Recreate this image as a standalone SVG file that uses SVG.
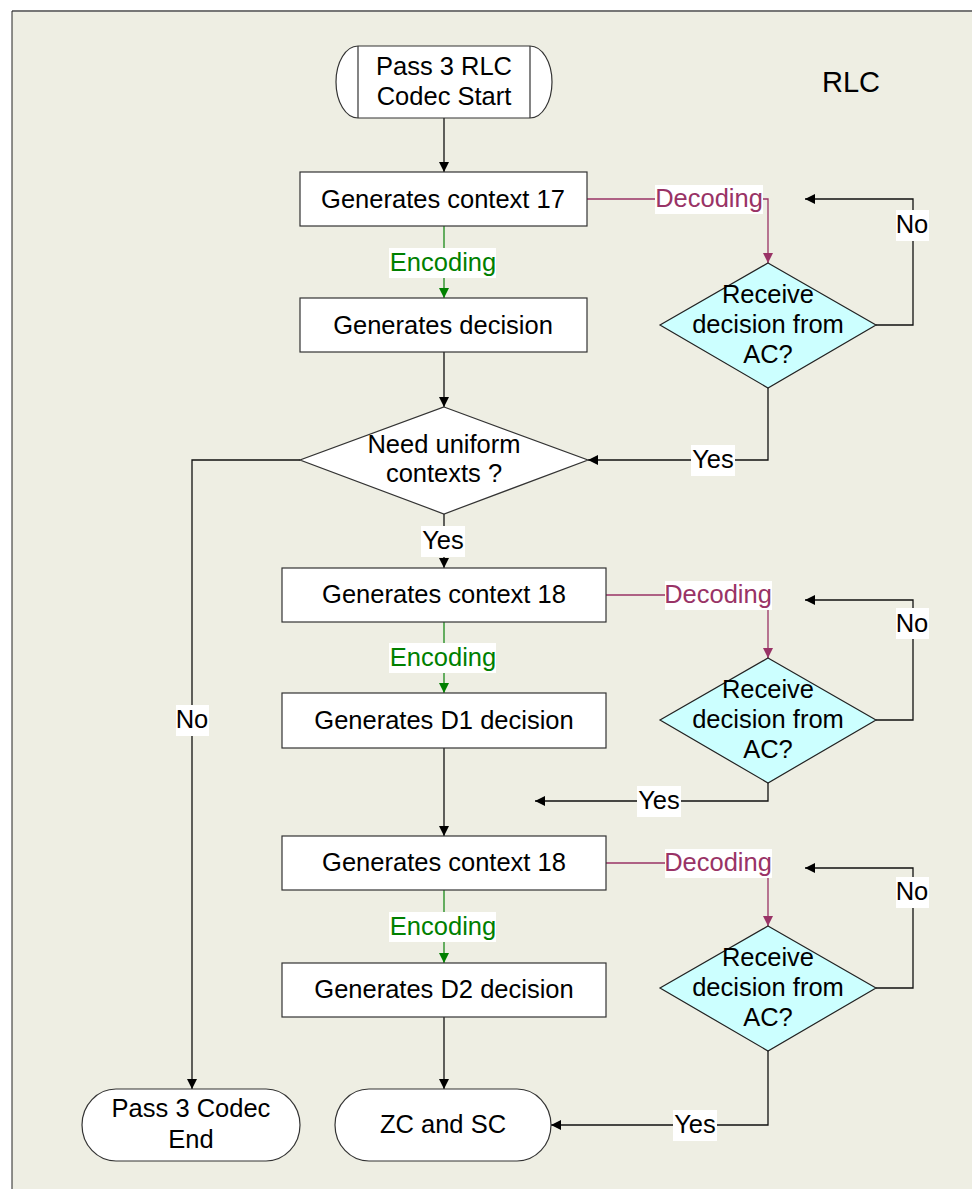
<svg xmlns="http://www.w3.org/2000/svg" width="972" height="1189" viewBox="0 0 972 1189">
  <defs>
    <style>
      text { font-family: "Liberation Sans", Arial, sans-serif; font-size: 25.5px; fill: #000; text-anchor: middle; }
      .box { fill: #fff; stroke: #333; stroke-width: 1.2; }
      .dec { fill: #CCFFFF; stroke: #222; stroke-width: 1.2; }
      .wire { fill: none; stroke: #111; stroke-width: 1.3; }
      .enc { fill: none; stroke: #1a8a1a; stroke-width: 1.3; }
      .dcd { fill: none; stroke: #993366; stroke-width: 1.3; }
      .lbl { fill: #fff; stroke: none; }
      .tg { fill: #008000; }
      .tm { fill: #993366; }
    </style>
    <marker id="ah" viewBox="0 0 10 10" refX="10" refY="5" markerWidth="10" markerHeight="10" markerUnits="userSpaceOnUse" orient="auto">
      <path d="M0,0 L10,5 L0,10 z" fill="#000"/>
    </marker>
    <marker id="ahg" viewBox="0 0 10 10" refX="10" refY="5" markerWidth="10" markerHeight="10" markerUnits="userSpaceOnUse" orient="auto">
      <path d="M0,0 L10,5 L0,10 z" fill="#008000"/>
    </marker>
    <marker id="ahm" viewBox="0 0 10 10" refX="10" refY="5" markerWidth="10" markerHeight="10" markerUnits="userSpaceOnUse" orient="auto">
      <path d="M0,0 L10,5 L0,10 z" fill="#993366"/>
    </marker>
  </defs>

  <!-- page -->
  <rect x="0" y="0" width="972" height="1189" fill="#fff"/>
  <rect x="12" y="11" width="960" height="1178" fill="#EEEEE3"/>
  <line x1="12" y1="11" x2="972" y2="11" stroke="#777" stroke-width="2"/>
  <line x1="12" y1="11" x2="12" y2="1189" stroke="#222" stroke-width="1"/>

  <text x="851" y="92" style="font-size:29px">RLC</text>

  <!-- connectors -->
  <g id="connectors">
    <line class="wire" x1="444" y1="118" x2="444" y2="172" marker-end="url(#ah)"/>
    <line class="enc" x1="444" y1="226" x2="444" y2="298" marker-end="url(#ahg)"/>
    <line class="wire" x1="444" y1="352" x2="444" y2="407" marker-end="url(#ah)"/>
    <line class="wire" x1="444" y1="514" x2="444" y2="568" marker-end="url(#ah)"/>
    <line class="enc" x1="444" y1="622" x2="444" y2="693" marker-end="url(#ahg)"/>
    <line class="wire" x1="444" y1="748" x2="444" y2="836" marker-end="url(#ah)"/>
    <line class="enc" x1="444" y1="890" x2="444" y2="963" marker-end="url(#ahg)"/>
    <line class="wire" x1="444" y1="1017" x2="444" y2="1089" marker-end="url(#ah)"/>

    <!-- uniform contexts: No -->
    <polyline class="wire" points="300,460 192,460 192,1089" marker-end="url(#ah)"/>

    <!-- decoding branch 1 -->
    <polyline class="dcd" points="587,199 768,199 768,263" marker-end="url(#ahm)"/>
    <polyline class="wire" points="876,325 913,325 913,199 805,199" marker-end="url(#ah)"/>
    <polyline class="wire" points="768,388 768,460 588,460" marker-end="url(#ah)"/>

    <!-- decoding branch 2 -->
    <polyline class="dcd" points="606,595 768,595 768,658" marker-end="url(#ahm)"/>
    <polyline class="wire" points="876,720 913,720 913,600 805,600" marker-end="url(#ah)"/>
    <polyline class="wire" points="768,783 768,801 535,801" marker-end="url(#ah)"/>

    <!-- decoding branch 3 -->
    <polyline class="dcd" points="606,863 768,863 768,926" marker-end="url(#ahm)"/>
    <polyline class="wire" points="876,988 913,988 913,868 805,868" marker-end="url(#ah)"/>
    <polyline class="wire" points="768,1051 768,1125 551,1125" marker-end="url(#ah)"/>

    <!-- connector labels -->
    <rect class="lbl" x="389" y="248" width="107" height="30"/>
    <text class="tg" x="443" y="271">Encoding</text>
    <rect class="lbl" x="389" y="643" width="107" height="30"/>
    <text class="tg" x="443" y="666">Encoding</text>
    <rect class="lbl" x="389" y="912" width="107" height="30"/>
    <text class="tg" x="443" y="935">Encoding</text>

    <rect class="lbl" x="655" y="185" width="108" height="29"/>
    <text class="tm" x="709" y="207">Decoding</text>
    <rect class="lbl" x="665" y="581" width="107" height="29"/>
    <text class="tm" x="718" y="603">Decoding</text>
    <rect class="lbl" x="665" y="849" width="107" height="29"/>
    <text class="tm" x="718" y="871">Decoding</text>

    <rect class="lbl" x="896" y="210" width="33" height="31"/>
    <text x="912" y="233">No</text>
    <rect class="lbl" x="896" y="608" width="33" height="31"/>
    <text x="912" y="632">No</text>
    <rect class="lbl" x="896" y="877" width="33" height="31"/>
    <text x="912" y="900">No</text>
    <rect class="lbl" x="176" y="705" width="33" height="31"/>
    <text x="192" y="728">No</text>

    <rect class="lbl" x="691" y="445" width="44" height="31"/>
    <text x="713" y="468">Yes</text>
    <rect class="lbl" x="421" y="526" width="44" height="31"/>
    <text x="443" y="549">Yes</text>
    <rect class="lbl" x="637" y="786" width="44" height="31"/>
    <text x="659" y="809">Yes</text>
    <rect class="lbl" x="673" y="1110" width="44" height="31"/>
    <text x="695" y="1133">Yes</text>
  </g>

  <!-- nodes -->
  <g id="start">
    <path class="box" d="M358,46 L530,46 A22,36 0 0 1 530,118 L358,118 A22,36 0 0 1 358,46 Z"/>
    <line x1="358" y1="46" x2="358" y2="118" stroke="#333" stroke-width="1.2"/>
    <line x1="530" y1="46" x2="530" y2="118" stroke="#333" stroke-width="1.2"/>
    <text x="444" y="75">Pass 3 RLC</text>
    <text x="444" y="105">Codec Start</text>
  </g>

  <g id="ctx17">
    <rect class="box" x="300" y="172" width="287" height="54"/>
    <text x="443" y="208">Generates context 17</text>
  </g>

  <g id="decision">
    <rect class="box" x="300" y="298" width="287" height="54"/>
    <text x="443" y="334">Generates decision</text>
  </g>

  <g id="uniform">
    <polygon class="box" points="444,407 588,460 444,514 300,460"/>
    <text x="444" y="453">Need uniform</text>
    <text x="444" y="482">contexts ?</text>
  </g>

  <g id="recv1">
    <polygon class="dec" points="768,263 876,325 768,388 660,325"/>
    <text x="768" y="303">Receive</text>
    <text x="768" y="333">decision from</text>
    <text x="768" y="363">AC?</text>
  </g>

  <g id="ctx18a">
    <rect class="box" x="282" y="568" width="324" height="54"/>
    <text x="444" y="603">Generates context 18</text>
  </g>

  <g id="d1">
    <rect class="box" x="282" y="693" width="324" height="55"/>
    <text x="444" y="729">Generates D1 decision</text>
  </g>

  <g id="recv2">
    <polygon class="dec" points="768,658 876,720 768,783 660,720"/>
    <text x="768" y="698">Receive</text>
    <text x="768" y="728">decision from</text>
    <text x="768" y="758">AC?</text>
  </g>

  <g id="ctx18b">
    <rect class="box" x="282" y="836" width="324" height="54"/>
    <text x="444" y="871">Generates context 18</text>
  </g>

  <g id="d2">
    <rect class="box" x="282" y="963" width="324" height="54"/>
    <text x="444" y="998">Generates D2 decision</text>
  </g>

  <g id="recv3">
    <polygon class="dec" points="768,926 876,988 768,1051 660,988"/>
    <text x="768" y="966">Receive</text>
    <text x="768" y="996">decision from</text>
    <text x="768" y="1026">AC?</text>
  </g>

  <g id="end">
    <rect class="box" x="82" y="1089" width="218" height="72" rx="34" ry="36"/>
    <text x="191" y="1117">Pass 3 Codec</text>
    <text x="191" y="1148">End</text>
  </g>

  <g id="zcsc">
    <rect class="box" x="335" y="1089" width="216" height="72" rx="34" ry="36"/>
    <text x="443" y="1133">ZC and SC</text>
  </g>
</svg>
